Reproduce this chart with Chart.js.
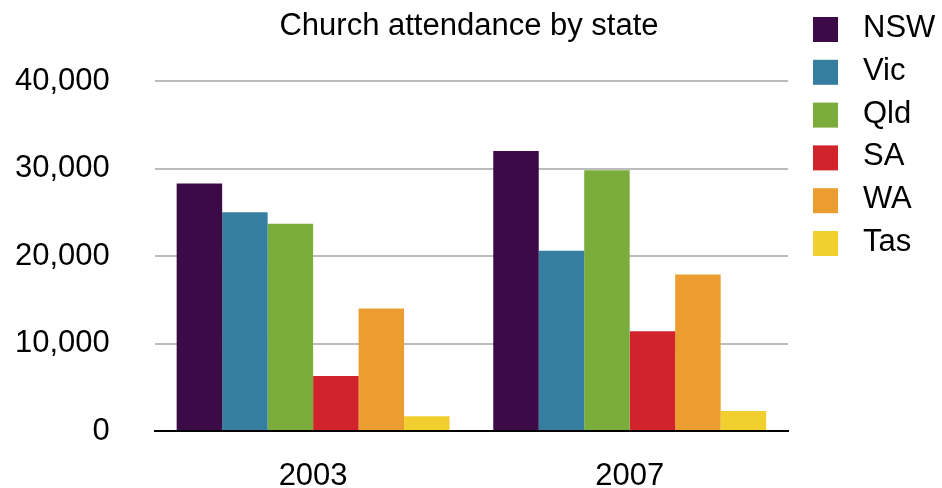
<!DOCTYPE html>
<html>
<head>
<meta charset="utf-8">
<script src="https://cdn.jsdelivr.net/npm/chart.js@4/dist/chart.umd.min.js"></script>
<style>
  html, body { margin: 0; padding: 0; background: #fff; }
  #graph { display: block; }
</style>
</head>
<body>
<canvas id="graph" width="942" height="488"></canvas>
<script>
var years = ["2003", "2007"];
var states = ["NSW", "Vic", "Qld", "SA", "WA", "Tas"];
var colours = ["#3d0a48", "#357ea0", "#7bad3d", "#d1232b", "#eb9e2f", "#f1cf2f"];
var nsw = [28300, 32000];
var vic = [25000, 20600];
var qld = [23700, 29800];
var sa  = [6300, 11400];
var wa  = [14000, 17900];
var tas = [1700, 2300];
var yTicks = [0, 10000, 20000, 30000, 40000];
var chartTitle = 'Church attendance by state';

var FONT = "'Liberation Sans', Helvetica, Arial, sans-serif";

// title and legend drawn by hand, squares on the right
var sideLegend = {
    id: 'sideLegend',
    afterDraw: function (chart) {
        var ctx = chart.ctx;
        ctx.save();
        ctx.font = "31px " + FONT;
        ctx.textBaseline = 'middle';
        ctx.fillStyle = '#000';
        ctx.textAlign = 'center';
        ctx.fillText(chartTitle, 469, 26);
        ctx.textAlign = 'left';
        chart.data.datasets.forEach(function (ds, i) {
            var top = 17 + i * 42.8;
            ctx.fillStyle = ds.backgroundColor;
            ctx.fillRect(813, top, 25, 25);
            ctx.fillStyle = '#000';
            ctx.fillText(ds.label, 863, top + 11.5);
        });
        ctx.restore();
    }
};

var series = [nsw, vic, qld, sa, wa, tas];
var data = {
    labels: years,
    datasets: states.map(function (s, i) {
        return {
            label: s,
            data: series[i],
            backgroundColor: colours[i],
            borderWidth: 0,
            barPercentage: 1,
            categoryPercentage: 0.862
        };
    })
};

var options = {
    responsive: false,
    animation: false,
    devicePixelRatio: 1,
    layout: {
        padding: { left: -30, right: 154, top: 81, bottom: -34 }
    },
    plugins: {
        legend: { display: false },
        tooltip: { enabled: false },
        title: { display: false }
    },
    scales: {
        x: {
            grid: { display: false, drawTicks: false },
            border: { display: true, color: '#000', width: 2 },
            ticks: {
                color: '#000',
                padding: 36,
                font: { family: FONT, size: 31, lineHeight: 0.6 }
            }
        },
        y: {
            min: yTicks[0],
            max: yTicks[yTicks.length - 1],
            afterBuildTicks: function (axis) {
                axis.ticks = yTicks.map(function (v) { return { value: v }; });
            },
            grid: { color: '#bcbcbc', lineWidth: 2, drawTicks: false },
            border: { display: false },
            ticks: {
                color: '#000',
                padding: 45,
                font: { family: FONT, size: 31, lineHeight: 0.77 },
                callback: function (v) { return v.toLocaleString('en-US'); }
            }
        }
    }
};

var context = document.querySelector('#graph').getContext('2d');
var myBarChart = new Chart(context, {
    type: 'bar',
    data: data,
    options: options,
    plugins: [sideLegend]
});
</script>
</body>
</html>
